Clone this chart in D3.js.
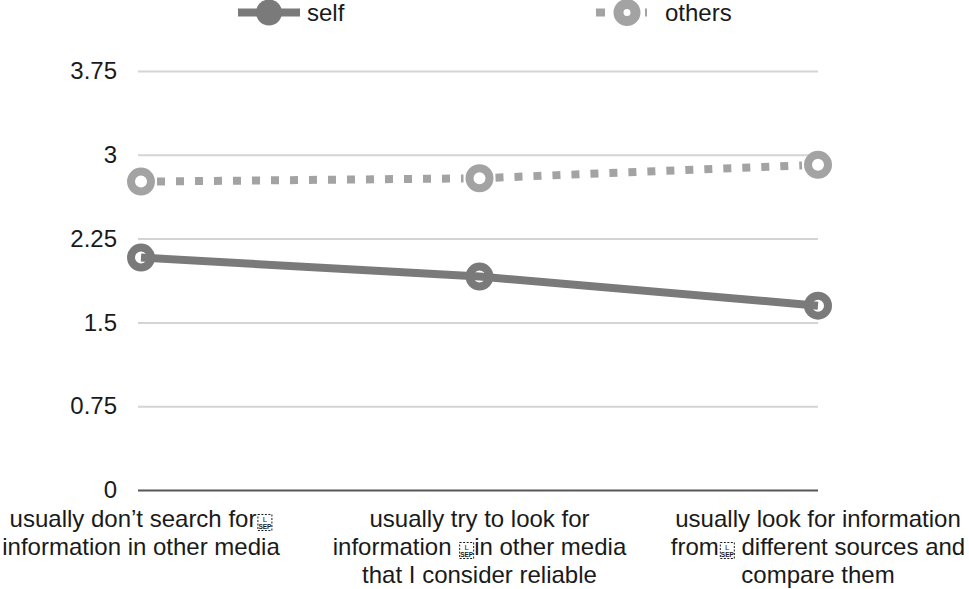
<!DOCTYPE html>
<html>
<head>
<meta charset="utf-8">
<script src="https://cdn.jsdelivr.net/npm/d3@7"></script>
<style>
  html, body { margin: 0; padding: 0; background: #fff; }
  text { font-family: "Liberation Sans", Arial, sans-serif; fill: #1a1a1a; }
</style>
</head>
<body>
<div id="chart"></div>
<script>
// ---------------- data ----------------
const categories = ["c1", "c2", "c3"];
const categoryLabels = [
  ["usually don\u2019t search for\u2028", "information in other media"],
  ["usually try to look for", "information \u2028in other media", "that I consider reliable"],
  ["usually look for information", "from\u2028 different sources and", "compare them"]
];
const selfValues = [2.08, 1.91, 1.65];
const othersValues = [2.76, 2.79, 2.91];
const yTicks = [0, 0.75, 1.5, 2.25, 3, 3.75];
const seriesNames = ["self", "others"];

// ---------------- space setup ----------------
const W = 969, H = 589;
const svg = d3.select("#chart").append("svg")
  .attr("width", W).attr("height", H);

const x = d3.scalePoint().domain(categories).range([141, 818]);
const y = d3.scaleLinear().domain([0, 3.75]).range([490, 71]);

const gridLeft = 138, gridRight = 818;
const FS = 24;

// ---------------- grid + y axis ----------------
const yAxis = d3.axisLeft(y)
  .tickValues(yTicks)
  .tickFormat(d => String(d))
  .tickSize(-(gridRight - gridLeft))
  .tickPadding(21);

const gy = svg.append("g")
  .attr("transform", `translate(${gridLeft},0)`)
  .call(yAxis);
gy.select(".domain").remove();
gy.selectAll(".tick line")
  .attr("stroke", d => d === 0 ? "#575757" : "#d4d4d4")
  .attr("stroke-width", 2);
gy.selectAll(".tick text")
  .attr("font-size", FS)
  .attr("font-family", "Liberation Sans, Arial, sans-serif")
  .attr("fill", "#1a1a1a");

// ---------------- category labels ----------------
// U+2028 in the source labels shows up as a dashed "L SEP" box glyph; draw that box
const SEP = "\u2028";
const BOXW = 16;
const xl = svg.append("g");
categories.forEach((c, i) => {
  const cx = x(c);
  categoryLabels[i].forEach((ln, j) => {
    const base = 527 + j * 28;
    const k = ln.indexOf(SEP);
    if (k < 0) {
      xl.append("text").attr("text-anchor", "middle").attr("font-size", FS)
        .attr("x", cx).attr("y", base).text(ln);
      return;
    }
    const before = xl.append("text").attr("font-size", FS).attr("y", base)
      .style("white-space", "pre").text(ln.slice(0, k));
    const afterStr = ln.slice(k + 1);
    const after = afterStr ? xl.append("text").attr("font-size", FS).attr("y", base)
      .style("white-space", "pre").text(afterStr) : null;
    const wb = before.node().getComputedTextLength();
    const wa = after ? after.node().getComputedTextLength() : 0;
    const x0 = cx - (wb + BOXW + wa) / 2;
    before.attr("x", x0);
    if (after) after.attr("x", x0 + wb + BOXW);
    const g = xl.append("g").attr("transform", `translate(${x0 + wb + 1},${base - 13})`);
    g.append("rect")
      .attr("x", 0.5).attr("y", 0.5)
      .attr("width", 14).attr("height", 16)
      .attr("fill", "none").attr("stroke", "#1a1a1a")
      .attr("stroke-width", 1).attr("stroke-dasharray", "2,1.5");
    g.append("text").attr("x", 7.5).attr("y", 8)
      .attr("text-anchor", "middle").attr("font-size", 8).text("L");
    g.append("text").attr("x", 7.5).attr("y", 15)
      .attr("text-anchor", "middle").attr("font-size", 6.5).attr("font-weight", "bold").text("SEP");
  });
});

// ---------------- series ----------------
const series = [
  { name: seriesNames[0], values: selfValues, color: "#7a7a7a", dash: null },
  { name: seriesNames[1], values: othersValues, color: "#a3a3a3", dash: "8,11" }
];

series.forEach(s => {
  const g = svg.append("g");
  g.selectAll("circle")
    .data(s.values)
    .enter().append("circle")
      .attr("cx", (d, i) => x(categories[i]))
      .attr("cy", d => y(d))
      .attr("r", 10)
      .attr("fill", "#fff")
      .attr("stroke", s.color)
      .attr("stroke-width", 8);
  if (s.dash) {
    // dotted segments between markers
    for (let i = 0; i < s.values.length - 1; i++) {
      const x0 = x(categories[i]), x1 = x(categories[i + 1]);
      const y0 = y(s.values[i]), y1 = y(s.values[i + 1]);
      const len = Math.hypot(x1 - x0, y1 - y0);
      const ux = (x1 - x0) / len, uy = (y1 - y0) / len;
      const off = 16;
      g.append("line")
        .attr("x1", x0 + ux * off).attr("y1", y0 + uy * off)
        .attr("x2", x1 - ux * off).attr("y2", y1 - uy * off)
        .attr("stroke", s.color)
        .attr("stroke-width", 8)
        .attr("stroke-dasharray", s.dash);
    }
  } else {
    g.append("path")
      .attr("d", d3.line().x((d, i) => x(categories[i])).y(d => y(d))(s.values))
      .attr("fill", "none")
      .attr("stroke", s.color)
      .attr("stroke-width", 8);
  }
});

// ---------------- legend ----------------
const legend = svg.append("g");
const legendItems = [
  { name: seriesNames[0], x0: 238, color: "#7a7a7a", dash: null },
  { name: seriesNames[1], x0: 596, color: "#a3a3a3", dash: "9,21,13,6,2,100" }
];
legendItems.forEach(l => {
  const ly = 12.5;
  legend.append("line")
    .attr("x1", l.x0).attr("x2", l.x0 + 62)
    .attr("y1", ly).attr("y2", ly)
    .attr("stroke", l.color).attr("stroke-width", 8)
    .attr("stroke-dasharray", l.dash);
  legend.append("circle")
    .attr("cx", l.x0 + 31).attr("cy", ly).attr("r", l.dash ? 8.5 : 13)
    .attr("fill", l.dash ? "#fff" : l.color)
    .attr("stroke", l.color).attr("stroke-width", l.dash ? 10 : 0);
  legend.append("text")
    .attr("x", l.x0 + 69).attr("y", ly + 8.5)
    .attr("font-size", FS)
    .text(l.name);
});
</script>
</body>
</html>
